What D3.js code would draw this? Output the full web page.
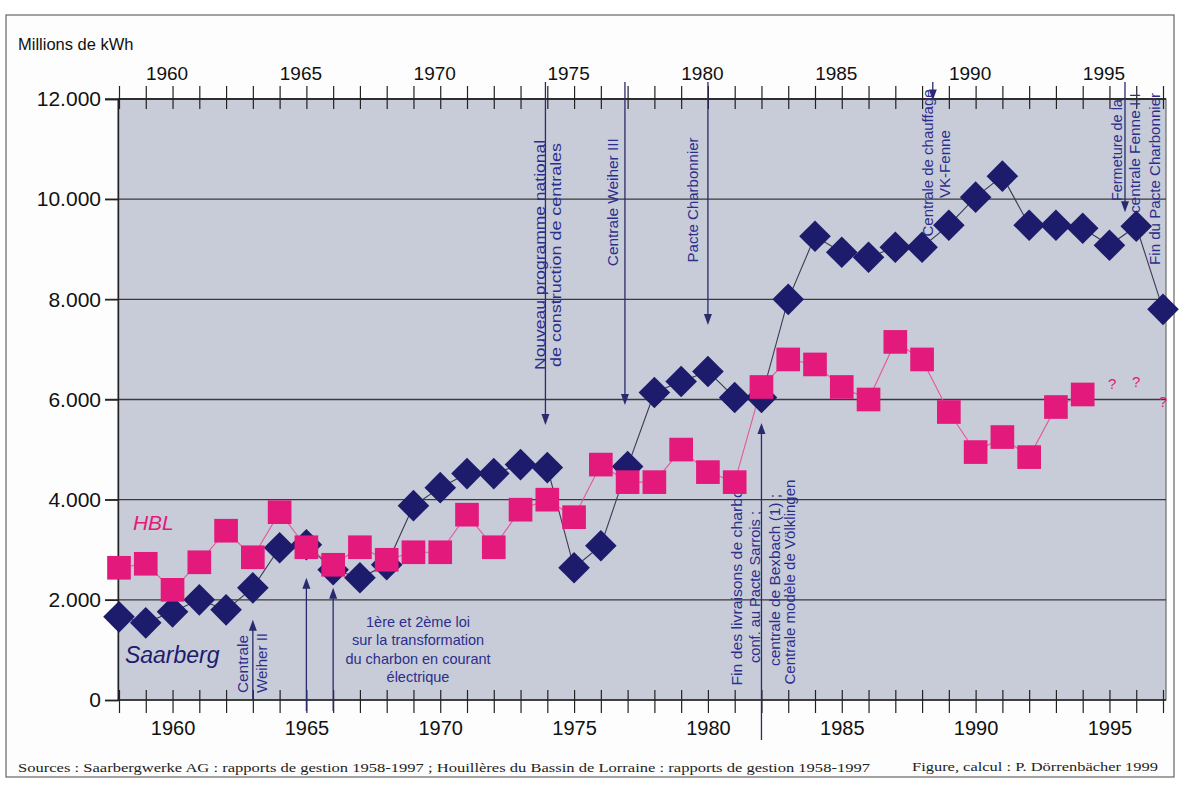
<!DOCTYPE html>
<html><head><meta charset="utf-8">
<script src="https://cdn.jsdelivr.net/npm/d3@7"></script>
<style>body{margin:0;background:#fff}svg{display:block}</style>
</head><body><svg id="c" width="1181" height="785"></svg>
<script>
// ---------- data ----------
const years = [1958,1959,1960,1961,1962,1963,1964,1965,1966,1967,1968,1969,1970,1971,1972,1973,1974,1975,1976,1977,1978,1979,1980,1981,1982,1983,1984,1985,1986,1987,1988,1989,1990,1991,1992,1993,1994,1995,1996,1997];
const saarberg = [1660,1540,1760,2000,1800,2240,3040,3100,2600,2440,2700,3880,4240,4520,4520,4700,4640,2640,3080,4660,6140,6360,6560,6040,6040,8000,9260,8940,8840,9040,9040,9480,10040,10460,9480,9480,9420,9080,9460,7800];
const hbl = [2640,2720,2200,2750,3380,2850,3750,3050,2700,3050,2800,2950,2950,3700,3050,3800,4000,3650,4700,4350,4350,5000,4550,4350,6250,6800,6700,6250,6000,7150,6800,5750,4950,5250,4850,5850,6100,null,null,null];
const unknownYears = [1995.1, 1996.0, 1997.0];
const unknownLevels = [6200, 6250, 5850];
const yTicks = [0,2000,4000,6000,8000,10000,12000];
const yTickLabels = ["0","2.000","4.000","6.000","8.000","10.000","12.000"];
const yearLabels = [1960,1965,1970,1975,1980,1985,1990,1995];

// ---------- layout ----------
const svg = d3.select("#c");
const x = d3.scaleLinear().domain([1958,1997]).range([119,1163]);
const y = d3.scaleLinear().domain([0,12000]).range([700,99]);
const PL = 118, PR = 1166;
const navy = "#1d1b6c", pink = "#e3197b", annot = "#2c2e8c";
const sans = "'Liberation Sans', Arial, Helvetica, sans-serif";

// outer frame
svg.append("rect").attr("x",6).attr("y",15).attr("width",1168).attr("height",762)
  .attr("fill","#fdfdfd").attr("stroke","#666").attr("stroke-width",1.2);

// plot background
svg.append("rect").attr("x",PL).attr("y",y(12000)).attr("width",PR-PL).attr("height",y(0)-y(12000))
  .attr("fill","#c8ccd8").attr("stroke","#555").attr("stroke-width",1);

// gridlines
svg.append("g").selectAll("line").data(yTicks.filter(d=>d>0)).join("line")
  .attr("x1",105).attr("x2",PR).attr("y1",d=>y(d)).attr("y2",d=>y(d))
  .attr("stroke","#3a3a3a").attr("stroke-width",1.3);

// y axis
const ya = svg.append("g").attr("transform",`translate(${PL},0)`)
  .call(d3.axisLeft(y).tickValues(yTicks).tickSize(13).tickPadding(4)
    .tickFormat((d,i)=>yTickLabels[i]));
ya.selectAll("text").attr("font-family",sans).attr("font-size",21).attr("fill","#111");
ya.selectAll("line,path").attr("stroke","#222").attr("stroke-width",1.4);

// bottom axis
const xb = svg.append("g").attr("transform",`translate(0,${y(0)})`)
  .call(d3.axisBottom(x).tickValues(years).tickSize(13).tickPadding(8)
    .tickFormat(d=>yearLabels.includes(d)?d:""));
xb.select(".domain").attr("d",`M${PL},0H${PR}`).attr("stroke","#222").attr("stroke-width",1.6);
xb.selectAll(".tick line").attr("y1",-10).attr("stroke","#222").attr("stroke-width",1.2);
xb.selectAll("text").attr("font-family",sans).attr("font-size",20).attr("fill","#111");

// top axis
const xt = svg.append("g").attr("transform",`translate(0,${y(12000)})`)
  .call(d3.axisTop(x).tickValues(years).tickSize(13).tickPadding(6)
    .tickFormat(d=>yearLabels.includes(d)?d:""));
xt.select(".domain").attr("d",`M${PL},0H${PR}`).attr("stroke","#222").attr("stroke-width",1.4);
xt.selectAll(".tick line").attr("y1",10).attr("stroke","#222").attr("stroke-width",1.2);
xt.selectAll("text").attr("font-family",sans).attr("font-size",19).attr("fill","#111").attr("dx",-6);

// unit label
svg.append("text").attr("x",18).attr("y",50).text("Millions de kWh")
  .attr("font-family",sans).attr("font-size",16.5).attr("fill","#111");

// ---------- annotations: arrows ----------
const arrows = [
  {yr:1963,   from:0,     to:1600, },
  {yr:1965,   from:-220,  to:2440, },
  {yr:1966,   from:-220,  to:2240, },
  {yr:1973.93,from:12340, to:5490, },
  {yr:1976.9, from:12340, to:5890, },
  {yr:1980,   from:12340, to:7490, },
  {yr:1982,   from:-800,  to:5530, },
  {yr:1988.4, from:12340, to:11970,},
  {yr:1995.58,from:12340, to:9740, }
];
const ag = svg.append("g");
arrows.forEach(a=>{
  const X = x(a.yr), Y1 = y(a.from), Y2 = y(a.to);
  const dir = Y2 < Y1 ? -1 : 1; // -1 = pointing up
  ag.append("line").attr("x1",X).attr("x2",X).attr("y1",Y1).attr("y2",Y2 - dir*6)
    .attr("stroke","#2a2a6e").attr("stroke-width",1.3);
  ag.append("path").attr("d",`M${X},${Y2}L${X-4},${Y2-dir*11}L${X+4},${Y2-dir*11}Z`)
    .attr("fill","#2a2a6e");
});

// ---------- vertical annotation texts ----------
const vtexts = [
  {t:"Nouveau programme national", yr:1973.73, v:8886, len:230},
  {t:"de construction de centrales", yr:1974.32, v:8886, len:224},
  {t:"Centrale Weiher III", yr:1976.45, v:9940, len:128},
  {t:"Pacte Charbonnier", yr:1979.45, v:9985, len:125},
  {t:"Fin des livraisons de charbon", yr:1981.07, v:2336, len:205},
  {t:"conf. au Pacte Sarrois ;", yr:1981.75, v:2256, len:152},
  {t:"centrale de Bexbach (1) ;", yr:1982.5, v:2396, len:172},
  {t:"Centrale modèle de Völklingen", yr:1983.07, v:2356, len:205},
  {t:"Centrale de chauffage", yr:1988.22, v:10723, len:147},
  {t:"VK-Fenne", yr:1988.85, v:10700, len:68},
  {t:"Fermeture de la", yr:1995.28, v:10980, len:102},
  {t:"centrale Fenne III", yr:1995.95, v:10920, len:120},
  {t:"Fin du Pacte Charbonnier", yr:1996.70, v:10404, len:172},
  {t:"Centrale", yr:1962.63, v:719, len:58},
  {t:"Weiher II", yr:1963.34, v:739, len:60}
];
const vg = svg.append("g");
vtexts.forEach(d=>{
  vg.append("text").attr("transform",`translate(${x(d.yr)},${y(d.v)}) rotate(-90)`)
    .attr("text-anchor","middle").attr("dominant-baseline","central")
    .attr("font-family",sans).attr("font-size",14).attr("fill",annot)
    .attr("textLength",d.len).attr("lengthAdjust","spacingAndGlyphs")
    .text(d.t);
});

// horizontal law text
const lawLines = ["1ère et 2ème loi","sur la transformation","du charbon en courant","électrique"];
const lawLevels = [1458,1098,719,359];
svg.append("g").selectAll("text").data(lawLines).join("text")
  .attr("x",x(1969.17)).attr("y",(d,i)=>y(lawLevels[i]))
  .attr("text-anchor","middle").attr("font-family",sans).attr("font-size",14.5)
  .attr("fill",annot).text(d=>d);

// ---------- series ----------
const line = d3.line().defined(d=>d[1]!=null).x(d=>x(d[0])).y(d=>y(d[1]));
svg.append("path").datum(years.map((yr,i)=>[yr,saarberg[i]])).attr("d",line)
  .attr("fill","none").attr("stroke","#3a3a55").attr("stroke-width",1.1);
svg.append("path").datum(years.map((yr,i)=>[yr,hbl[i]])).attr("d",line)
  .attr("fill","none").attr("stroke","#e4589a").attr("stroke-width",1.1);

const sq = d3.symbol().type(d3.symbolSquare);
svg.append("g").selectAll("path").data(years.map((yr,i)=>[yr,saarberg[i]])).join("path")
  .attr("d",sq.size(500)())
  .attr("transform",d=>`translate(${x(d[0])},${y(d[1])}) rotate(45)`)
  .attr("fill",navy);
svg.append("g").selectAll("path").data(years.map((yr,i)=>[yr,hbl[i]]).filter(d=>d[1]!=null)).join("path")
  .attr("d",sq.size(560)())
  .attr("transform",d=>`translate(${x(d[0])},${y(d[1])})`)
  .attr("fill",pink);

// question marks
svg.append("g").selectAll("text").data(unknownYears).join("text")
  .attr("x",d=>x(d)).attr("y",(d,i)=>y(unknownLevels[i]))
  .attr("text-anchor","middle").attr("font-family",sans).attr("font-size",15)
  .attr("fill",pink).text("?");

// series labels
svg.append("text").attr("x",x(1958.52)).attr("y",y(3395)).text("HBL")
  .attr("font-family",sans).attr("font-style","italic").attr("font-size",21).attr("fill",pink);
svg.append("text").attr("x",x(1958.22)).attr("y",y(739)).text("Saarberg")
  .attr("font-family",sans).attr("font-style","italic").attr("font-size",23).attr("fill",navy);

// sources
const serif = "'Liberation Serif', 'Times New Roman', serif";
svg.append("text").attr("x",18).attr("y",772)
  .text("Sources : Saarbergwerke AG : rapports de gestion 1958-1997 ; Houillères du Bassin de Lorraine : rapports de gestion 1958-1997")
  .attr("font-family",serif).attr("font-size",13).attr("fill","#222")
  .attr("textLength",852).attr("lengthAdjust","spacingAndGlyphs");
svg.append("text").attr("x",912).attr("y",771)
  .text("Figure, calcul : P. Dörrenbächer 1999")
  .attr("font-family",serif).attr("font-size",13).attr("fill","#222")
  .attr("textLength",246).attr("lengthAdjust","spacingAndGlyphs");
</script></body></html>
